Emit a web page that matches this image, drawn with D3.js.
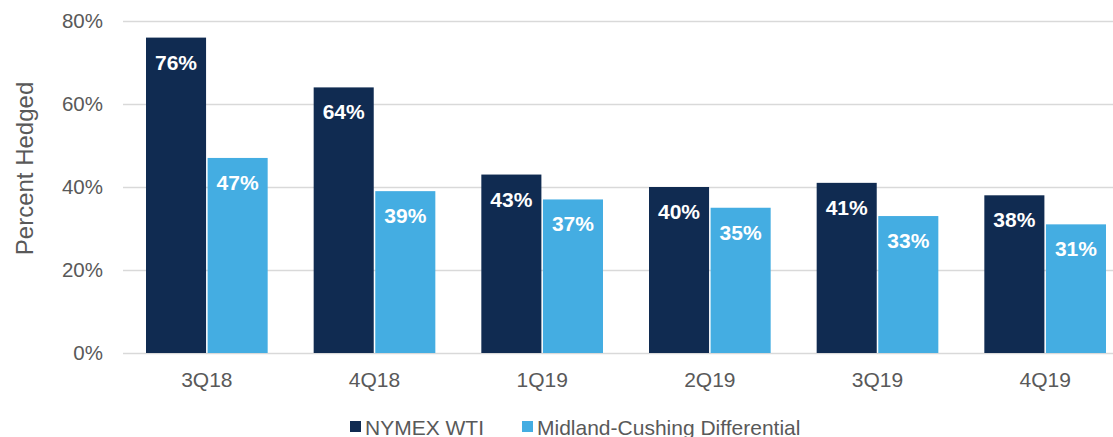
<!DOCTYPE html>
<html>
<head>
<meta charset="utf-8">
<script src="https://cdn.jsdelivr.net/npm/d3@7"></script>
<style>
  body { margin: 0; background: #fff; }
  svg text { font-family: "Liberation Sans", Arial, sans-serif; }
</style>
</head>
<body>
<svg id="chart" width="1113" height="437"></svg>
<script>
const quarters = ["3Q18", "4Q18", "1Q19", "2Q19", "3Q19", "4Q19"];
const seriesNames = ["NYMEX WTI", "Midland-Cushing Differential"];
const nymexWti = [76, 64, 43, 40, 41, 38];
const midlandCushing = [47, 39, 37, 35, 33, 31];
const yTicks = [0, 20, 40, 60, 80];
const colors = ["#102b51", "#44ade2"];

const svg = d3.select("#chart");
const margin = { top: 21, left: 123 };
const plotH = 332;
const plotW = 1006;

const data = quarters.map((q, i) => ({ q, vals: [nymexWti[i], midlandCushing[i]] }));

const x = d3.scaleBand().domain(quarters).range([margin.left, margin.left + plotW]).paddingInner(0).paddingOuter(0);
const xInner = d3.scaleBand().domain([0, 1]).range([23, x.bandwidth() - 23]).paddingInner(0.025);
const y = d3.scaleLinear().domain([0, 80]).range([margin.top + plotH, margin.top]);

// grid
svg.append("g")
  .selectAll("line")
  .data(yTicks)
  .join("line")
  .attr("x1", margin.left)
  .attr("x2", margin.left + plotW)
  .attr("y1", d => y(d) + 0.5)
  .attr("y2", d => y(d) + 0.5)
  .attr("stroke", "#d9d9d9")
  .attr("stroke-width", 1.5);

// y tick labels
svg.append("g")
  .selectAll("text")
  .data(yTicks)
  .join("text")
  .attr("x", 103)
  .attr("y", d => y(d))
  .attr("dy", "0.35em")
  .attr("text-anchor", "end")
  .attr("font-size", 20.5)
  .attr("fill", "#595959")
  .text(d => d + "%");

// y axis title
svg.append("text")
  .attr("transform", `translate(33, 168.5) rotate(-90)`)
  .attr("text-anchor", "middle")
  .attr("font-size", 24)
  .attr("fill", "#595959")
  .text("Percent Hedged");

// bars
const groups = svg.append("g")
  .selectAll("g")
  .data(data)
  .join("g")
  .attr("transform", d => `translate(${x(d.q)},0)`);

groups.selectAll("rect")
  .data(d => d.vals.map((v, k) => ({ v, k })))
  .join("rect")
  .attr("x", d => xInner(d.k))
  .attr("y", d => y(d.v))
  .attr("width", xInner.bandwidth())
  .attr("height", d => y(0) - y(d.v))
  .attr("fill", d => colors[d.k]);

groups.selectAll("text")
  .data(d => d.vals.map((v, k) => ({ v, k })))
  .join("text")
  .attr("x", d => xInner(d.k) + xInner.bandwidth() / 2)
  .attr("y", d => y(d.v) + 32)
  .attr("text-anchor", "middle")
  .attr("font-size", 21)
  .attr("font-weight", "bold")
  .attr("fill", "#fff")
  .text(d => d.v + "%");

// x labels
svg.append("g")
  .selectAll("text")
  .data(quarters)
  .join("text")
  .attr("x", d => x(d) + x.bandwidth() / 2)
  .attr("y", 387)
  .attr("text-anchor", "middle")
  .attr("font-size", 21)
  .attr("fill", "#595959")
  .text(d => d);

// legend
const legendX = [350, 522];
const legend = svg.append("g")
  .selectAll("g")
  .data(seriesNames)
  .join("g")
  .attr("transform", (d, i) => `translate(${legendX[i]}, 0)`);
legend.append("rect")
  .attr("x", 0)
  .attr("y", 421)
  .attr("width", 11)
  .attr("height", 11)
  .attr("fill", (d, i) => colors[i]);
legend.append("text")
  .attr("x", 15)
  .attr("y", 435)
  .attr("font-size", 21)
  .attr("fill", "#595959")
  .text(d => d);
</script>
</body>
</html>
